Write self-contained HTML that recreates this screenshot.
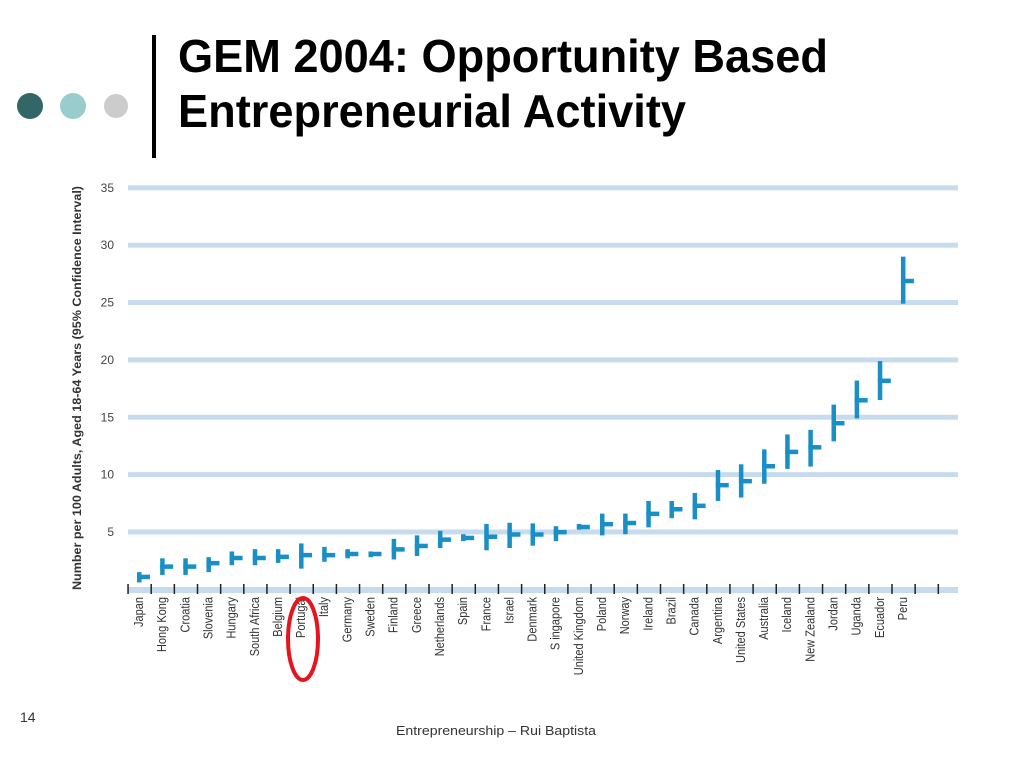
<!DOCTYPE html>
<html><head><meta charset="utf-8"><style>
body{margin:0;background:#fff;width:1024px;height:768px;overflow:hidden}
svg{display:block;font-family:"Liberation Sans",sans-serif}
</style></head><body>
<svg id="s" width="1024" height="768">
<circle cx="30" cy="106" r="13" fill="#336666"/>
<circle cx="73" cy="106" r="13" fill="#99cccc"/>
<circle cx="116" cy="106" r="12" fill="#cccccc"/>
<rect x="152" y="35" width="4" height="123" fill="#000"/>
<text x="178" y="72" font-size="46" font-weight="bold" textLength="650" lengthAdjust="spacingAndGlyphs">GEM 2004: Opportunity Based</text>
<text x="178" y="127" font-size="46" font-weight="bold" textLength="508" lengthAdjust="spacingAndGlyphs">Entrepreneurial Activity</text>
<g id="chart"></g>
<text x="81" y="388" font-size="11.5" font-weight="bold" fill="#333" text-anchor="middle" transform="rotate(-90 81 388)" textLength="404" lengthAdjust="spacingAndGlyphs">Number per 100 Adults, Aged 18-64 Years (95% Confidence Interval)</text>
<ellipse cx="303" cy="639" rx="15" ry="41" fill="none" stroke="#e8141b" stroke-width="4"/>
<text x="20" y="722" font-size="14" fill="#333">14</text>
<text x="496" y="735" font-size="13" fill="#333" text-anchor="middle" textLength="200" lengthAdjust="spacingAndGlyphs">Entrepreneurship – Rui Baptista</text>
</svg>
<script>
const categories=["Japan","Hong Kong","Croatia","Slovenia","Hungary","South Africa","Belgium","Portugal","Italy","Germany","Sweden","Finland","Greece","Netherlands","Spain","France","Israel","Denmark","S ingapore","United Kingdom","Poland","Norway","Ireland","Brazil","Canada","Argentina","United States","Australia","Iceland","New Zealand","Jordan","Uganda","Ecuador","Peru"];
const means=[1.1,2.0,2.0,2.3,2.75,2.75,2.85,3.0,3.0,3.1,3.1,3.5,3.8,4.35,4.5,4.6,4.8,4.8,5.0,5.45,5.7,5.8,6.6,7.0,7.3,9.1,9.45,10.75,12.0,12.4,14.5,16.5,18.2,26.9];
const lows=[0.6,1.25,1.25,1.5,2.1,2.1,2.3,1.8,2.4,2.7,2.8,2.6,2.9,3.6,4.2,3.4,3.6,3.8,4.2,5.2,4.7,4.8,5.4,6.2,6.1,7.7,8.0,9.2,10.5,10.7,12.9,14.9,16.5,24.9];
const highs=[1.5,2.7,2.7,2.8,3.3,3.5,3.5,4.0,3.7,3.5,3.3,4.4,4.7,5.1,4.8,5.7,5.8,5.75,5.5,5.7,6.6,6.6,7.7,7.7,8.4,10.4,10.9,12.2,13.5,13.9,16.1,18.2,19.9,29.0];
const yTicks=[5,10,15,20,25,30,35];
const NS="http://www.w3.org/2000/svg";
const g=document.getElementById('chart');
const x0=128,slot=23.15,nSlots=35;
const y=v=>589.3-v*11.47;
const sx=i=>x0+slot*i;
function mk(t,a){const e=document.createElementNS(NS,t);for(const k in a)e.setAttribute(k,a[k]);g.appendChild(e);return e;}
yTicks.forEach(v=>{
  const l=mk('rect',{x:128,y:y(v)-2.5,width:830,height:5,fill:'#c6dcee'});
  
  
  const t=mk('text',{x:114,y:y(v)+4,'font-size':12,'text-anchor':'end',fill:'#444'});
  t.textContent=v;
  
  
});
const base=mk('rect',{x:128,y:587,width:830,height:6,fill:'#c6dcee'});


for(let i=0;i<=nSlots;i++){
  const tk=mk('rect',{x:sx(i)-0.7,y:584,width:1.5,height:10,fill:'#222'});
  
  
}
categories.forEach((c,i)=>{
  const bx=sx(i)+9;
  const b=mk('rect',{x:bx,y:y(highs[i]),width:4.5,height:y(lows[i])-y(highs[i]),fill:'#1a8fc6'});
  
  
  const m=mk('rect',{x:bx,y:y(means[i])-2,width:13,height:4.5,fill:'#1a8fc6'});
  
  
  const cx=sx(i)+15;
  const t=mk('text',{x:cx,y:597,'font-size':12.5,fill:'#333','text-anchor':'end',transform:'rotate(-90 '+cx+' 597) scale(0.88 1)'.replace('scale(0.88 1)','')});
  t.setAttribute('transform','translate('+cx+' 597) rotate(-90) scale(0.88 1)');
  t.setAttribute('x',0);
  t.setAttribute('y',0);
  t.textContent=c;
  
  
});
</script>
</body></html>
